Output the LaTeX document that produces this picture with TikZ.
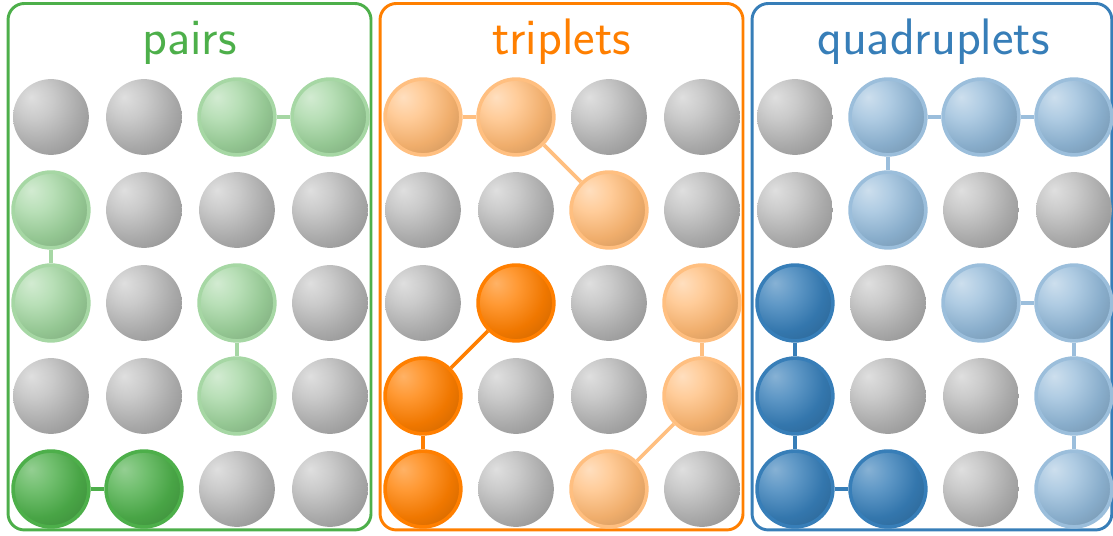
\documentclass[tikz,border=0pt]{standalone}
\usepackage{tikz}
\usetikzlibrary{positioning,calc}
\definecolor{pairgreen}{HTML}{4DAF4A}
\definecolor{tripleorange}{HTML}{FF7F00}
\definecolor{quadblue}{HTML}{377EB8}
\colorlet{ballc}{gray}
\colorlet{ballh}{white}
\pgfdeclareradialshading[ballc,ballh]{softball}{\pgfqpoint{-7bp}{7bp}}{%
  color(0bp)=(ballh); color(10bp)=(ballh!50!ballc); color(22bp)=(ballc!94!black);
  color(36bp)=(ballc!76!black); color(50bp)=(ballc!58!black)}
\tikzset{
  ballcol/.code={\colorlet{ballc}{#1}},
  ballhi/.code={\colorlet{ballh}{#1}},
  ball/.style={
    circle, minimum size=0.815cm, inner sep=0pt,
    path picture={
      \shade[shading=softball]
        ($(path picture bounding box.center)+(-0.07cm,0.07cm)$) circle (0.52cm);
    }
  },
  plain/.style={ball, ballcol=gray!58, ballhi=gray!25},
  lite/.style={
    ball, ballcol=#1!55!white, ballhi=#1!25!white,
    draw=#1!50!white, line width=1.1pt
  },
  dark/.style={
    ball, ballcol=#1, ballhi=#1!60!white,
    draw=#1, line width=1.1pt
  },
  link/.style={line width=1.1pt},
  panel/.style={
    rectangle, rounded corners=5pt, line width=0.9pt,
    minimum height=5.661cm, inner sep=0pt
  },
  title/.style={font=\sffamily\fontsize{15.7}{18}\selectfont, anchor=base}
}

\begin{document}
\begin{tikzpicture}[x=1cm, y=-1cm]
  \useasboundingbox (0,0) rectangle (11.968,5.763);

  % frames and titles
  \node[panel, draw=pairgreen, minimum width=3.903cm]    (pbox) at (2.038,2.868) {};
  \node[panel, draw=tripleorange, minimum width=3.903cm] (tbox) at (6.038,2.868) {};
  \node[panel, draw=quadblue, minimum width=3.869cm]     (qbox) at (10.021,2.868) {};
  \node[title, text=pairgreen]    (ptitle) at (2.038,0.585)  {pairs};
  \node[title, text=tripleorange] (ttitle) at (6.038,0.585)  {triplets};
  \node[title, text=quadblue]     (qtitle) at (10.038,0.585) {quadruplets};

  % grey grid
  \foreach \pre/\px in {p/0,t/4,q/8}
    \foreach \r in {1,...,5}
      \foreach \c in {1,...,4}
        \node[plain] (\pre-\r-\c) at ({\px+\c-0.452},{\r+0.258}) {};

  % pairs
  \foreach \r/\c in {1/3,1/4,2/1,3/1,3/3,4/3}
    \node[lite=pairgreen] (p-\r-\c) at (p-\r-\c) {};
  \foreach \r/\c in {5/1,5/2}
    \node[dark=pairgreen] (p-\r-\c) at (p-\r-\c) {};
  \draw[link, pairgreen!50!white] (p-1-3) -- (p-1-4);
  \draw[link, pairgreen!50!white] (p-2-1) -- (p-3-1);
  \draw[link, pairgreen!50!white] (p-3-3) -- (p-4-3);
  \draw[link, pairgreen] (p-5-1) -- (p-5-2);

  % triplets
  \foreach \r/\c in {1/1,1/2,2/3,3/4,4/4,5/3}
    \node[lite=tripleorange] (t-\r-\c) at (t-\r-\c) {};
  \foreach \r/\c in {3/2,4/1,5/1}
    \node[dark=tripleorange] (t-\r-\c) at (t-\r-\c) {};
  \draw[link, tripleorange!50!white] (t-1-1) -- (t-1-2);
  \draw[link, tripleorange!50!white] (t-1-2) -- (t-2-3);
  \draw[link, tripleorange!50!white] (t-3-4) -- (t-4-4);
  \draw[link, tripleorange!50!white] (t-4-4) -- (t-5-3);
  \draw[link, tripleorange] (t-3-2) -- (t-4-1);
  \draw[link, tripleorange] (t-4-1) -- (t-5-1);

  % quadruplets
  \foreach \r/\c in {1/2,1/3,1/4,2/2,3/3,3/4,4/4,5/4}
    \node[lite=quadblue] (q-\r-\c) at (q-\r-\c) {};
  \foreach \r/\c in {3/1,4/1,5/1,5/2}
    \node[dark=quadblue] (q-\r-\c) at (q-\r-\c) {};
  \draw[link, quadblue!50!white] (q-1-2) -- (q-1-3);
  \draw[link, quadblue!50!white] (q-1-3) -- (q-1-4);
  \draw[link, quadblue!50!white] (q-1-2) -- (q-2-2);
  \draw[link, quadblue!50!white] (q-3-3) -- (q-3-4);
  \draw[link, quadblue!50!white] (q-3-4) -- (q-4-4);
  \draw[link, quadblue!50!white] (q-4-4) -- (q-5-4);
  \draw[link, quadblue] (q-3-1) -- (q-4-1);
  \draw[link, quadblue] (q-4-1) -- (q-5-1);
  \draw[link, quadblue] (q-5-1) -- (q-5-2);
\end{tikzpicture}
\end{document}
